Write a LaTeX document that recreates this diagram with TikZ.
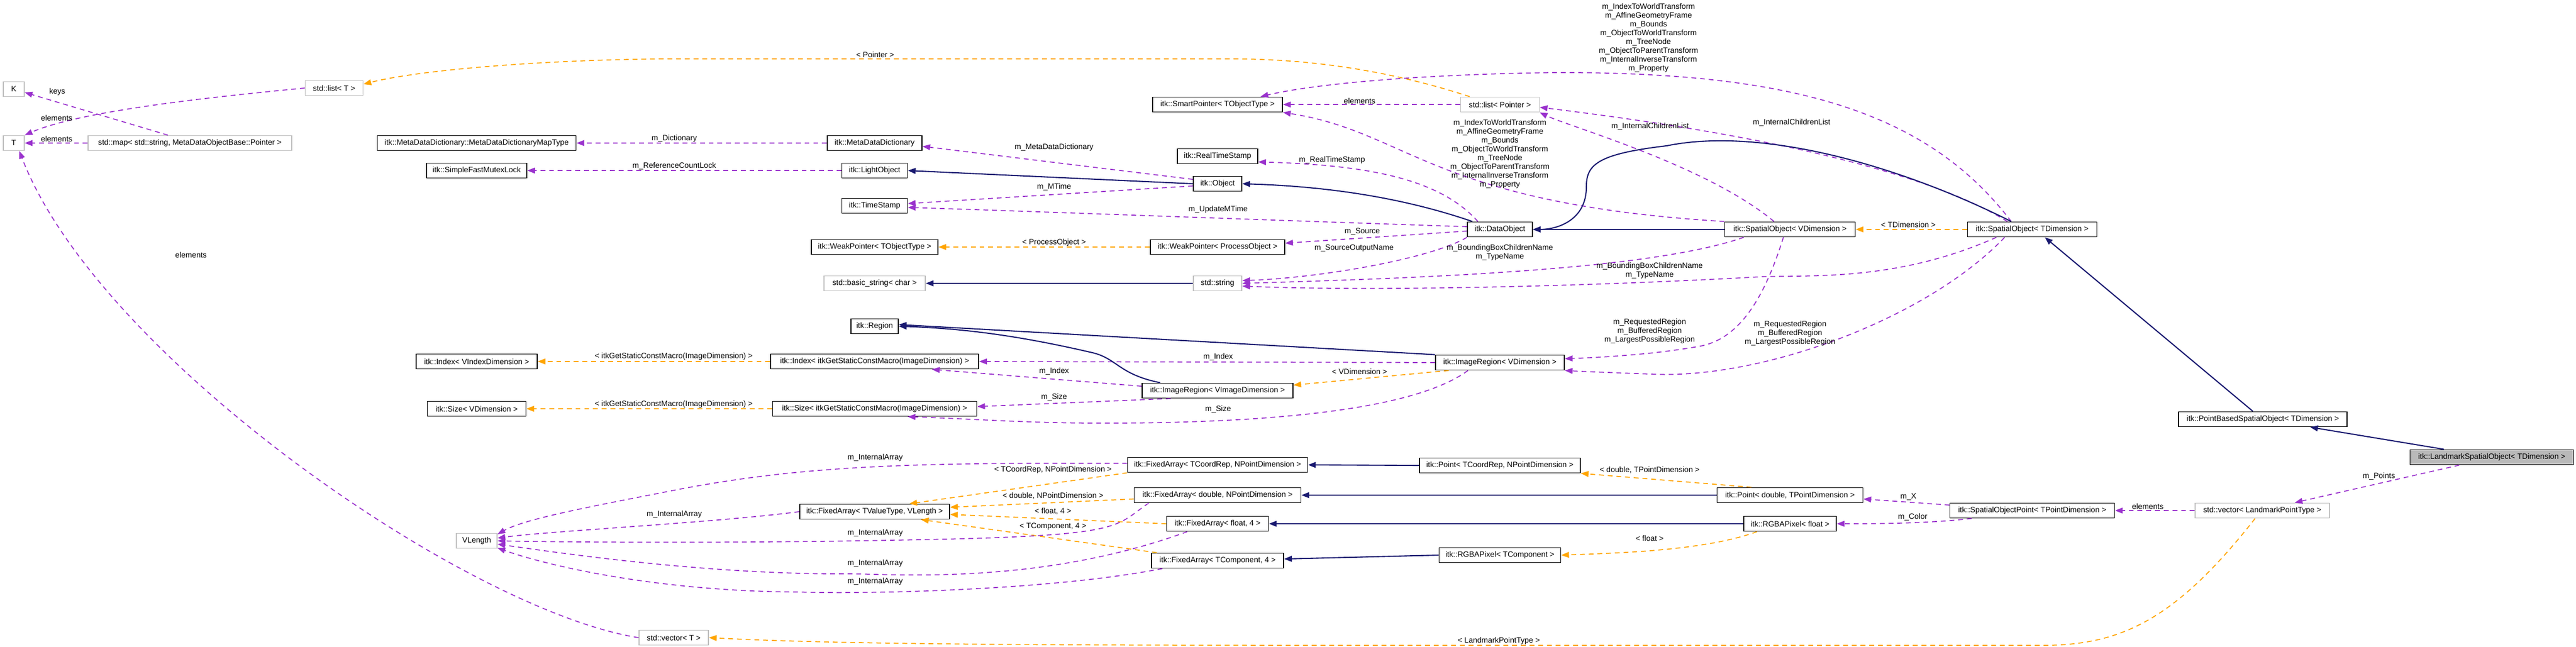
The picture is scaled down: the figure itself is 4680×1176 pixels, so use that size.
\documentclass[tikz,border=0pt]{standalone}
\usepackage{fontspec}
\setmainfont{Liberation Sans}
\usetikzlibrary{arrows.meta}
\definecolor{purp}{HTML}{9A32CD}
\definecolor{orng}{HTML}{FFA500}
\definecolor{navyc}{HTML}{191970}
\newcommand\bx[6]{\node[#6, minimum width={#4*0.01cm}] (#1) at (#2,#3) {#5};}
\begin{document}
\begin{tikzpicture}[x=0.01cm,y=-0.01cm,
  every node/.style={font=\fontsize{4}{4.55}\selectfont},
  box/.style={draw=black,line width=0.5pt,inner sep=0pt,minimum height=0.27cm,fill=white},
  ext/.style={box,draw=gray!50},
  cur/.style={box,fill=gray!55},
  lbl/.style={inner sep=0pt,align=center},
  pu/.style={draw=purp,line width=0.5pt,dash pattern=on 2.5pt off 2pt,-{Triangle[length=4pt,width=3pt]}},
  og/.style={draw=orng,line width=0.5pt,dash pattern=on 2.5pt off 2pt,-{Triangle[length=4pt,width=3pt]}},
  nv/.style={draw=navyc,line width=0.6pt,-{Triangle[length=4pt,width=3pt]}}]
\useasboundingbox (0,0) rectangle (4680,1176);
% nodes
\bx{K}{25}{162}{38}{K}{ext}
\bx{T}{25}{260}{38}{T}{ext}
\bx{listT}{607}{160}{105}{std::list< T >}{ext}
\bx{map}{345}{260}{370}{std::map< std::string, MetaDataObjectBase::Pointer >}{ext}
\bx{MapType}{866}{260}{361}{itk::MetaDataDictionary::MetaDataDictionaryMapType}{box}
\bx{Mutex}{866}{310}{182}{itk::SimpleFastMutexLock}{box}
\bx{MDD}{1589}{260}{172}{itk::MetaDataDictionary}{box}
\bx{Light}{1589}{310}{119}{itk::LightObject}{box}
\bx{TS}{1589}{374}{119}{itk::TimeStamp}{box}
\bx{WPT}{1589}{449}{230}{itk::WeakPointer< TObjectType >}{box}
\bx{SP}{2212}{190}{236}{itk::SmartPointer< TObjectType >}{box}
\bx{RTS}{2212}{284}{146}{itk::RealTimeStamp}{box}
\bx{Obj}{2212}{334}{88}{itk::Object}{box}
\bx{WPP}{2212}{449}{244}{itk::WeakPointer< ProcessObject >}{box}
\bx{listP}{2725}{190}{143}{std::list< Pointer >}{ext}
\bx{DO}{2725}{417}{118}{itk::DataObject}{box}
\bx{SOV}{3252}{417}{237}{itk::SpatialObject< VDimension >}{box}
\bx{SOT}{3692}{417}{235}{itk::SpatialObject< TDimension >}{box}
\bx{bstr}{1589}{515}{184}{std::basic\_string< char >}{ext}
\bx{str}{2212}{515}{88}{std::string}{ext}
\bx{Region}{1589}{593}{86}{itk::Region}{box}
\bx{IdxG}{1589}{657}{378}{itk::Index< itkGetStaticConstMacro(ImageDimension) >}{box}
\bx{IRVI}{2212}{710}{274}{itk::ImageRegion< VImageDimension >}{box}
\bx{SzG}{1589}{743}{371}{itk::Size< itkGetStaticConstMacro(ImageDimension) >}{box}
\bx{IRV}{2725}{659}{234}{itk::ImageRegion< VDimension >}{box}
\bx{IdxV}{866}{657}{220}{itk::Index< VIndexDimension >}{box}
\bx{SzV}{866}{743}{179}{itk::Size< VDimension >}{box}
\bx{VLen}{866}{983}{74}{VLength}{ext}
\bx{vecT}{1224}{1159}{126}{std::vector< T >}{ext}
\bx{FAcoord}{2212}{845}{327}{itk::FixedArray< TCoordRep, NPointDimension >}{box}
\bx{FAdbl}{2212}{900}{303}{itk::FixedArray< double, NPointDimension >}{box}
\bx{FAval}{1589}{930}{272}{itk::FixedArray< TValueType, VLength >}{box}
\bx{FAfl}{2212}{952}{185}{itk::FixedArray< float, 4 >}{box}
\bx{FAcomp}{2212}{1019}{240}{itk::FixedArray< TComponent, 4 >}{box}
\bx{PBSO}{4111}{762}{306}{itk::PointBasedSpatialObject< TDimension >}{box}
\bx{LSO}{4527}{831}{297}{itk::LandmarkSpatialObject< TDimension >}{cur}
\bx{Pcoord}{2725}{846}{292}{itk::Point< TCoordRep, NPointDimension >}{box}
\bx{Pdbl}{3252}{900}{265}{itk::Point< double, TPointDimension >}{box}
\bx{RGBf}{3252}{952}{168}{itk::RGBAPixel< float >}{box}
\bx{RGBc}{2725}{1009}{221}{itk::RGBAPixel< TComponent >}{box}
\bx{SOP}{3692}{928}{299}{itk::SpatialObjectPoint< TPointDimension >}{box}
\bx{vecL}{4110}{928}{244}{std::vector< LandmarkPointType >}{ext}
% edges
\draw[pu] (map.west) -- (T.east);
\draw[pu] ([xshift=-0.4cm]map.north) -- ([yshift=-0.06cm]K.east);
\draw[pu] (listT.west) .. controls (400,175) and (150,200) .. (T.north east);
\draw[pu] (vecT.west) .. controls (850,1110) and (180,650) .. ([xshift=0.1cm]T.south);
\draw[pu] (MDD.west) -- (MapType.east);
\draw[pu] (Light.west) -- (Mutex.east);
\draw[pu] ([yshift=0.08cm]Obj.west) -- ([yshift=-0.06cm]MDD.east);
\draw[pu] ([yshift=-0.04cm]Obj.west) -- ([yshift=0.04cm]TS.east);
\draw[pu] ([yshift=0.05cm]DO.west) .. controls (2300,400) and (1900,385) .. ([yshift=-0.03cm]TS.east);
\draw[pu] (listP.west) -- (SP.east);
\draw[pu] (SOV.north west) .. controls (2600,370) and (2560,240) .. (SP.south east);
\draw[pu] ([xshift=-0.4cm]DO.north) .. controls (2620,330) and (2500,300) .. ([yshift=0.04cm]RTS.south east);
\draw[pu] ([xshift=-0.38cm]SOT.north) .. controls (3500,200) and (3250,130) .. (2820,132) .. controls (2600,135) and (2400,150) .. ([xshift=0.78cm]SP.north);
\draw[pu] ([xshift=-0.29cm]SOV.north) .. controls (3100,300) and (2850,230) .. (listP.south east);
\draw[pu] ([xshift=-0.45cm]SOT.north) .. controls (3450,280) and (3000,220) .. ([yshift=-0.05cm]listP.east);
\draw[og] ([xshift=-0.55cm]listP.north) .. controls (2500,120) and (2350,107) .. (2236,107) -- (1200,107) .. controls (950,110) and (750,130) .. ([yshift=0.07cm]listT.east);
\draw[nv] (SOV.west) -- (DO.east);
\draw[nv] ([xshift=-0.38cm]SOT.north) .. controls (3450,300) and (3200,230) .. (3028,265) .. controls (2900,280) and (2882,300) .. (2882,340) .. controls (2882,400) and (2830,417) .. (DO.east);
\draw[nv] ([xshift=-0.5cm]DO.north) .. controls (2580,370) and (2450,340) .. (Obj.east);
\draw[nv] (Obj.west) -- (Light.east);
\draw[og] (SOT.west) -- (SOV.east);
\draw[nv] ([xshift=-0.18cm]PBSO.north) -- ([xshift=0.23cm]SOT.south);
\draw[nv] ([xshift=-0.87cm]LSO.north) -- ([xshift=0.86cm]PBSO.south);
\draw[pu] ([xshift=-0.59cm]LSO.south) -- ([xshift=0.59cm]vecL.north);
\draw[pu] (vecL.west) -- (SOP.east);
\draw[pu] ([yshift=0.1cm]SOP.west) -- ([yshift=-0.07cm]Pdbl.east);
\draw[pu] ([xshift=-1.1cm]SOP.south) .. controls (3500,952) and (3400,952) .. (RGBf.east);
\draw[og] ([xshift=-0.7cm]Pdbl.north) -- (Pcoord.south east);
\draw[og] ([xshift=-0.6cm]RGBf.south) .. controls (3100,1000) and (2950,1005) .. (RGBc.east);
\draw[og] ([xshift=-0.13cm]vecL.south) .. controls (3950,1130) and (3850,1173) .. (3710,1173) -- (2500,1173) .. controls (1800,1173) and (1500,1170) .. (vecT.east);
\draw[nv] (Pcoord.west) -- (FAcoord.east);
\draw[nv] (Pdbl.west) -- (FAdbl.east);
\draw[nv] (RGBf.west) -- (FAfl.east);
\draw[nv] (RGBc.west) -- ([yshift=0.03cm]FAcomp.east);
\draw[og] (FAcoord.south west) -- ([xshift=0.63cm]FAval.north);
\draw[og] ([yshift=-0.07cm]FAdbl.west) -- ([yshift=0.08cm]FAval.east);
\draw[og] (FAfl.west) -- ([yshift=-0.05cm]FAval.east);
\draw[og] ([xshift=-1.1cm]FAcomp.north) -- ([xshift=0.84cm]FAval.south);
\draw[pu] ([yshift=0.03cm]FAcoord.west) .. controls (1650,841) and (1450,845) .. (1200,896) .. controls (1050,925) and (950,945) .. ([yshift=0.12cm]VLen.east);
\draw[pu] (FAval.west) .. controls (1300,950) and (1000,965) .. ([yshift=0.05cm]VLen.east);
\draw[pu] ([xshift=-1.25cm]FAdbl.south) .. controls (2020,960) and (2050,975) .. (1615,982) .. controls (1300,988) and (1000,985) .. (VLen.east);
\draw[pu] ([xshift=-0.55cm]FAfl.south) .. controls (1900,1060) and (1650,1045) .. (1550,1043) .. controls (1300,1045) and (1050,1010) .. ([yshift=-0.06cm]VLen.east);
\draw[pu] ([xshift=-1cm]FAcomp.south) .. controls (1900,1075) and (1550,1080) .. (1450,1076) .. controls (1200,1075) and (1000,1030) .. ([yshift=-0.13cm]VLen.east);
\draw[og] (IdxG.west) -- (IdxV.east);
\draw[og] (SzG.west) -- (SzV.east);
\draw[pu] ([yshift=0.08cm]IRVI.west) -- ([xshift=1.04cm]IdxG.south);
\draw[pu] (IRV.west) -- (IdxG.east);
\draw[pu] ([xshift=-0.85cm]IRVI.south) -- ([yshift=0.04cm]SzG.east);
\draw[pu] ([xshift=-0.58cm]IRV.south) .. controls (2550,760) and (2200,770) .. (1979,769) .. controls (1850,768) and (1780,762) .. ([xshift=0.6cm]SzG.south);
\draw[nv] ([xshift=-1.04cm]IRVI.north) .. controls (2030,680) and (2030,650) .. (1980,640) .. controls (1850,610) and (1750,597) .. (Region.east);
\draw[nv] (IRV.north west) -- ([yshift=0.03cm]Region.east);
\draw[og] ([xshift=-0.93cm]IRV.south) -- ([yshift=0.1cm]IRVI.east);
\draw[pu] ([xshift=-0.12cm]SOV.south) .. controls (3200,560) and (3150,620) .. (3084,630) .. controls (3000,645) and (2900,650) .. ([yshift=0.07cm]IRV.east);
\draw[pu] ([xshift=-0.5cm]SOT.south) .. controls (3500,580) and (3200,690) .. (3000,680) .. controls (2920,677) and (2870,675) .. (IRV.south east);
\draw[pu] (DO.south west) .. controls (2600,470) and (2400,505) .. ([yshift=0.05cm]str.east);
\draw[pu] ([yshift=-0.03cm]DO.west) -- ([yshift=0.07cm]WPP.east);
\draw[pu] ([xshift=-0.84cm]SOV.south) .. controls (3000,490) and (2600,505) .. (str.east);
\draw[pu] ([xshift=-0.65cm]SOT.south) .. controls (3450,510) and (3300,500) .. (3200,503) .. controls (2900,520) and (2500,530) .. ([yshift=-0.05cm]str.east);
\draw[og] (WPP.west) -- (WPT.east);
\draw[nv] (str.west) -- (bstr.east);
% labels
\node[lbl] (l1) at (103,252) {elements};
\node[lbl] (l2) at (104,167) {keys};
\node[lbl] (l3) at (103,214) {elements};
\node[lbl] (l4) at (347,463) {elements};
\node[lbl] (l5) at (1225,252) {m\_Dictionary};
\node[lbl] (l6) at (1225,302) {m\_ReferenceCountLock};
\node[lbl] (l7) at (1915,268) {m\_MetaDataDictionary};
\node[lbl] (l8) at (1915,340) {m\_MTime};
\node[lbl] (l9) at (2213,381) {m\_UpdateMTime};
\node[lbl] (l10) at (2470,183) {elements};
\node[lbl] (l11) at (1590,99) {< Pointer >};
\node[lbl] (l12) at (2995,69) {m\_IndexToWorldTransform\\m\_AffineGeometryFrame\\m\_Bounds\\m\_ObjectToWorldTransform\\m\_TreeNode\\m\_ObjectToParentTransform\\m\_InternalInverseTransform\\m\_Property};
\node[lbl] (l13) at (2725,280) {m\_IndexToWorldTransform\\m\_AffineGeometryFrame\\m\_Bounds\\m\_ObjectToWorldTransform\\m\_TreeNode\\m\_ObjectToParentTransform\\m\_InternalInverseTransform\\m\_Property};
\node[lbl] (l14) at (2998,230) {m\_InternalChildrenList};
\node[lbl] (l15) at (3255,223) {m\_InternalChildrenList};
\node[lbl] (l16) at (2420,291) {m\_RealTimeStamp};
\node[lbl] (l17) at (3467,408) {< TDimension >};
\node[lbl] (l18) at (2725,459) {m\_BoundingBoxChildrenName\\m\_TypeName};
\node[lbl] (l19) at (2997,492) {m\_BoundingBoxChildrenName\\m\_TypeName};
\node[lbl] (l20) at (2475,421) {m\_Source};
\node[lbl] (l21) at (2460,451) {m\_SourceOutputName};
\node[lbl] (l22) at (1915,441) {< ProcessObject >};
\node[lbl] (l23) at (1224,648) {< itkGetStaticConstMacro(ImageDimension) >};
\node[lbl] (l24) at (1224,735) {< itkGetStaticConstMacro(ImageDimension) >};
\node[lbl] (l25) at (1915,675) {m\_Index};
\node[lbl] (l26) at (2213,649) {m\_Index};
\node[lbl] (l27) at (1915,722) {m\_Size};
\node[lbl] (l28) at (2213,744) {m\_Size};
\node[lbl] (l29) at (2470,675) {< VDimension >};
\node[lbl] (l30) at (2997,602) {m\_RequestedRegion\\m\_BufferedRegion\\m\_LargestPossibleRegion};
\node[lbl] (l31) at (3252,606) {m\_RequestedRegion\\m\_BufferedRegion\\m\_LargestPossibleRegion};
\node[lbl] (l32) at (1590,832) {m\_InternalArray};
\node[lbl] (l33) at (1913,854) {< TCoordRep, NPointDimension >};
\node[lbl] (l34) at (1913,901) {< double, NPointDimension >};
\node[lbl] (l35) at (1913,929) {< float, 4 >};
\node[lbl] (l36) at (1913,957) {< TComponent, 4 >};
\node[lbl] (l37) at (1225,935) {m\_InternalArray};
\node[lbl] (l38) at (1590,969) {m\_InternalArray};
\node[lbl] (l39) at (1590,1024) {m\_InternalArray};
\node[lbl] (l40) at (1590,1057) {m\_InternalArray};
\node[lbl] (l41) at (2997,854) {< double, TPointDimension >};
\node[lbl] (l42) at (2997,978) {< float >};
\node[lbl] (l43) at (3467,903) {m\_X};
\node[lbl] (l44) at (3475,940) {m\_Color};
\node[lbl] (l45) at (3902,920) {elements};
\node[lbl] (l46) at (4322,866) {m\_Points};
\node[lbl] (l47) at (2723,1165) {< LandmarkPointType >};
\end{tikzpicture}
\end{document}
